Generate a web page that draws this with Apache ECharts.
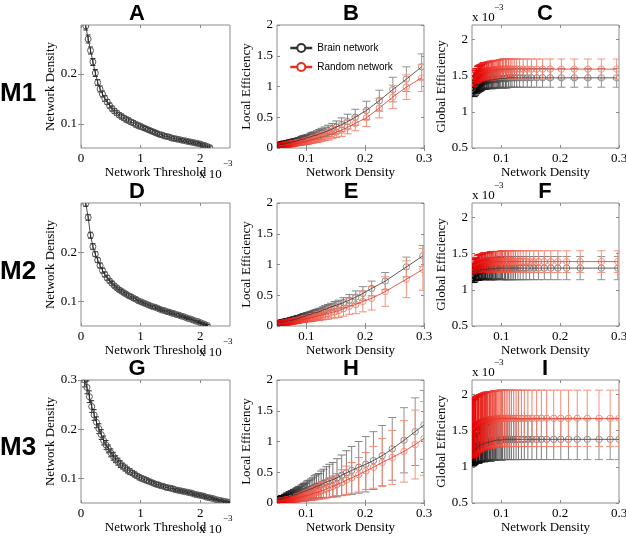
<!DOCTYPE html>
<html>
<head>
<meta charset="utf-8">
<script src="https://cdn.jsdelivr.net/npm/echarts@6/dist/echarts.min.js"></script>
<style>html,body{margin:0;padding:0;background:#fff}#main{width:626px;height:538px}</style>
</head>
<body>
<div id="main"></div>
<script>
// units: threshold in 1/100 of 1e-3, density in 1/1000,
// local efficiency in 1/100, global efficiency in 1/100 of 1e-3

// ---- M1 ----
const thrM1 = [8,12,16,20,24,28,32,36,40,44,48,52,56,60,64,68,72,76,80,84,88,92,96,100,104,108,112,116,120,124,128,132,136,140,144,148,152,156,160,164,168,172,176,180,184,188,192,196,200,204,208,212,216];
const densM1 = [296,270,247,224,202,183,170,160,151,144,137,131,126,122,118,115,112,109,107,104,102,99,97,95,93,91,89,87,85,83,81,79,78,76,75,74,72,71,70,69,68,67,66,65,64,63,62,61,60,58,57,55,53];
const densSdM1 = [8,8,7,7,7,6,6,6,6,5,5,5,5,5,5,5,5,5,5,5,5,5,5,5,4,4,4,4,4,4,4,4,4,4,4,4,4,4,4,3,3,3,3,3,3,3,3,3,3,3,3,3,3];
const leBrainM1 = [132,112,95,77,61,50,43,38,34,31,28,26,24,23,21,20,20,19,18,17,17,16,15,15,14,14,13,12,12,11,11,10,10,10,9,9,9,8,8,8,8,8,7,7,7,7,6,6,6,6,6,5,5];
const leBrainSdM1 = [21,20,20,17,15,13,12,11,10,9,9,8,8,7,7,6,6,6,6,5,5,5,5,5,5,4,4,4,4,4,4,4,4,4,3,3,3,3,3,3,3,3,3,3,3,3,2,2,2,2,2,2,2];
const leRandM1 = [114,99,83,65,49,40,34,29,26,23,21,19,18,17,15,15,14,13,13,12,11,11,10,10,10,9,9,9,8,8,8,7,7,7,7,7,6,6,6,6,6,6,5,5,5,5,5,5,4,4,4,4,4];
const leRandSdM1 = [22,20,19,16,14,12,11,10,9,8,8,7,7,7,6,6,6,5,5,5,5,5,4,4,4,4,4,4,4,3,3,3,3,3,3,3,3,3,3,3,3,3,2,2,2,2,2,2,2,2,2,2,2];
const geBrainM1 = [147,147,147,147,147,147,147,147,147,147,147,147,147,147,147,147,147,146,146,146,146,146,146,145,145,145,145,145,144,144,144,144,144,143,143,143,142,142,142,142,141,141,140,140,139,139,138,138,137,135,134,132,130];
const geBrainSdM1 = [13,13,13,13,13,13,13,13,13,13,13,13,13,13,13,13,13,13,13,13,13,12,12,12,12,12,12,12,12,12,12,11,11,11,11,11,11,11,11,10,10,10,10,10,10,10,10,10,10,9,9,9,9];
const geRandM1 = [159,159,159,159,159,159,159,159,159,159,159,159,159,159,159,159,159,159,159,159,159,159,159,158,158,158,158,158,157,157,157,157,157,157,156,156,156,156,156,156,155,155,154,154,154,153,153,152,152,150,149,147,145];
const geRandSdM1 = [14,14,14,14,14,14,14,14,14,14,14,14,14,14,14,14,14,14,14,14,14,13,13,13,13,13,13,13,13,13,13,12,12,12,12,12,12,12,12,11,11,11,11,11,11,11,11,11,11,10,10,10,10];

// ---- M2 ----
const thrM2 = [8,12,16,20,24,28,32,36,40,44,48,52,56,60,64,68,72,76,80,84,88,92,96,100,104,108,112,116,120,124,128,132,136,140,144,148,152,156,160,164,168,172,176,180,184,188,192,196,200,204,208,212];
const densM2 = [298,270,234,211,196,184,173,163,155,148,142,137,132,128,124,121,118,115,112,110,107,105,102,100,98,96,94,92,90,89,87,85,83,82,80,79,77,76,74,73,71,70,68,66,65,63,61,60,58,56,54,52];
const densSdM2 = [6,6,6,6,5,5,5,5,5,5,4,4,4,4,4,4,4,4,4,4,4,3,3,3,3,3,3,3,3,3,3,3,3,3,3,3,3,3,3,3,3,2,2,2,2,2,2,2,2,2,2,2];
const leBrainM2 = [114,96,73,61,53,47,42,38,35,33,31,29,27,26,24,23,22,21,21,20,19,18,18,17,16,16,15,15,14,14,13,12,12,12,11,11,10,10,9,9,9,8,8,7,7,7,6,6,6,5,5,4];
const leBrainSdM2 = [17,16,14,12,11,10,9,8,7,7,6,6,6,5,5,5,5,5,4,4,4,4,4,4,4,4,4,3,3,3,3,3,3,3,3,3,3,3,3,2,2,2,2,2,2,2,2,2,2,2,2,2];
const leRandM2 = [92,76,56,45,40,35,32,28,25,23,22,20,19,18,17,16,16,15,14,14,13,13,12,12,12,11,11,10,10,10,9,9,9,8,8,8,8,7,7,7,7,6,6,6,6,5,5,5,5,4,4,4];
const leRandSdM2 = [34,30,24,19,17,15,13,12,11,10,9,9,8,8,7,7,7,6,6,6,6,5,5,5,5,5,4,4,4,4,4,4,4,3,3,3,3,3,3,3,3,3,3,3,2,2,2,2,2,2,2,2];
const geBrainM2 = [130,130,130,130,130,130,130,130,130,130,130,130,130,130,130,130,130,130,130,130,130,130,130,130,130,130,130,130,129,129,129,129,129,129,129,129,129,129,128,128,128,128,128,127,127,126,125,125,124,123,121,120];
const geBrainSdM2 = [16,16,16,16,16,16,16,16,16,16,16,16,16,16,16,16,16,16,16,16,16,16,16,16,15,15,15,15,15,15,15,15,15,15,15,14,14,14,14,14,14,14,12,12,12,12,12,12,10,10,10,10];
const geRandM2 = [139,139,139,139,139,139,139,139,139,139,139,139,139,139,139,139,139,139,139,139,139,139,139,139,139,139,139,139,139,139,139,139,139,139,138,138,138,138,138,138,138,138,138,137,137,137,136,136,135,134,133,132];
const geRandSdM2 = [15,15,15,15,15,15,15,15,15,15,15,15,15,15,15,15,15,15,15,15,15,15,15,15,14,14,14,14,14,14,14,14,14,14,14,13,13,13,13,13,13,13,12,12,12,12,12,12,10,10,10,10];

// ---- M3 ----
const thrM3 = [6,10,14,18,22,26,30,34,38,42,46,50,54,58,62,66,70,74,78,82,86,90,94,98,102,106,110,114,118,122,126,130,134,138,142,146,150,154,158,162,166,170,174,178,182,186,190,194,198,202,206,210,214,218,222,226,230,234,238,242,246,250];
const densM3 = [300,285,266,246,229,214,201,189,177,168,160,152,145,139,134,129,125,121,117,114,111,108,105,102,100,98,96,94,92,90,88,87,85,84,82,81,80,79,77,76,75,74,73,72,71,70,68,67,66,65,64,62,61,60,59,57,56,55,54,53,52,51];
const densSdM3 = [14,13,12,12,11,11,10,10,9,9,8,8,8,7,7,7,6,6,6,6,5,5,5,5,5,5,5,4,4,4,4,4,4,4,4,4,4,4,3,3,3,3,3,3,3,3,3,3,3,3,3,3,3,3,2,2,2,2,2,2,2,2];
const leBrainM3 = [127,116,102,88,77,69,63,58,53,49,45,41,38,36,34,32,30,28,27,26,24,23,22,21,20,19,19,18,17,16,16,15,15,14,14,13,13,13,12,12,12,11,11,11,11,10,10,10,9,9,9,8,8,8,8,7,7,6,6,6,6,5];
const leBrainSdM3 = [56,55,53,51,49,47,45,42,39,36,33,31,28,27,25,23,22,20,19,18,17,16,15,15,14,13,13,12,12,11,11,11,10,10,9,9,9,9,8,8,8,7,7,7,7,6,6,6,5,5,5,4,4,4,4,3,3,3,3,3,2,2];
const leRandM3 = [105,95,84,74,66,58,52,46,41,37,33,30,27,25,23,21,20,18,17,16,15,14,13,13,12,11,11,10,10,9,9,9,8,8,7,7,7,7,7,6,6,6,6,6,6,5,5,5,5,5,5,4,4,4,4,4,3,3,3,3,3,3];
const leRandSdM3 = [60,56,50,44,39,34,30,28,25,23,21,18,17,16,15,14,13,12,11,11,10,10,9,8,8,8,7,7,7,6,6,6,6,6,5,5,5,5,5,4,4,4,4,4,4,3,3,3,3,3,3,2,2,2,2,2,2,1,1,1,1,1];
const geBrainM3 = [138,138,138,138,138,138,138,138,138,138,138,138,138,138,138,138,138,138,138,138,138,138,138,138,137,137,137,137,137,136,136,136,136,136,135,135,135,135,134,134,133,133,133,133,132,132,131,131,130,130,130,129,128,128,127,126,125,124,123,123,122,121];
const geBrainSdM3 = [28,28,28,28,28,28,28,28,28,28,28,28,28,28,28,28,28,28,28,28,28,28,28,28,28,27,27,27,27,27,27,27,27,27,27,27,27,25,25,25,25,25,25,25,25,25,23,23,23,23,23,23,23,23,20,20,20,20,20,20,20,20];
const geRandM3 = [167,167,167,167,167,167,167,167,167,167,167,167,167,167,167,167,167,167,167,167,167,167,167,167,167,167,167,166,166,166,166,166,165,165,165,165,165,165,164,164,164,164,164,163,163,163,162,162,161,161,161,160,159,159,158,157,156,155,154,154,153,152];
const geRandSdM3 = [39,39,39,39,39,39,39,39,39,39,39,39,39,39,39,39,39,39,39,39,39,39,39,39,39,39,39,39,39,39,39,39,39,39,39,39,39,39,39,39,39,39,39,39,39,39,39,39,39,39,39,39,39,39,40,40,40,40,40,40,40,40];

const panelLetters = ['A','B','C','D','E','F','G','H','I'];
const rowNames = ['M1','M2','M3'];
const legendNames = ['Brain network','Random network'];
const xTicksThr = [0, 1, 2];
const xTicksDens = [0.1, 0.2, 0.3];
const yTicksLocal = [0, 0.5, 1, 1.5, 2];
const yTicksGlobal = [0.5, 1, 1.5, 2];

const rows = [
  {thr: thrM1, dens: densM1, densSd: densSdM1, leB: leBrainM1, leBSd: leBrainSdM1, leR: leRandM1, leRSd: leRandSdM1, geB: geBrainM1, geBSd: geBrainSdM1, geR: geRandM1, geRSd: geRandSdM1, yMin: 0.052, yMax: 0.298, yTicks: [0.1, 0.2]},
  {thr: thrM2, dens: densM2, densSd: densSdM2, leB: leBrainM2, leBSd: leBrainSdM2, leR: leRandM2, leRSd: leRandSdM2, geB: geBrainM2, geBSd: geBrainSdM2, geR: geRandM2, geRSd: geRandSdM2, yMin: 0.051, yMax: 0.299, yTicks: [0.1, 0.2]},
  {thr: thrM3, dens: densM3, densSd: densSdM3, leB: leBrainM3, leBSd: leBrainSdM3, leR: leRandM3, leRSd: leRandSdM3, geB: geBrainM3, geBSd: geBrainSdM3, geR: geRandM3, geRSd: geRandSdM3, yMin: 0.05, yMax: 0.3, yTicks: [0.1, 0.2, 0.3]}
];

const SERIF = 'Liberation Serif', SANS = 'Liberation Sans';
const colL = [81, 277, 472], colW = [149, 147, 147], rowT = [25, 203, 380], rowH = 123;

function mix(a, b, t) {
  return 'rgb(' + [0, 1, 2].map(k => Math.round(a[k] + (b[k] - a[k]) * t)).join(',') + ')';
}
const brainCol = t => mix([150, 150, 150], [0, 0, 0], t);
const randCol = t => mix([246, 152, 130], [228, 0, 0], t);
const fmt = v => String(Math.round(v * 1000) / 1000);

function triples(xs, ys, es, kx, ky) {
  return xs.map((x, i) => [x * kx, ys[i] * ky, es[i] * ky]);
}

function errSeries(ax, data, barCol, markCol, cap, r) {
  const n = data.length;
  return {
    type: 'custom', xAxisIndex: ax, yAxisIndex: ax, data: data, clip: true, silent: true,
    encode: {x: 0, y: 1},
    renderItem: function (params, api) {
      const x = api.value(0), y = api.value(1), e = api.value(2);
      const p = api.coord([x, y]);
      const hi = api.coord([x, y + e])[1], lo = api.coord([x, y - e])[1];
      const t = params.dataIndex / (n - 1);
      const st = {stroke: barCol(t), lineWidth: 1, fill: 'none'};
      return {type: 'group', children: [
        {type: 'line', shape: {x1: p[0], y1: hi, x2: p[0], y2: lo}, style: st},
        {type: 'line', shape: {x1: p[0] - cap, y1: hi, x2: p[0] + cap, y2: hi}, style: st},
        {type: 'line', shape: {x1: p[0] - cap, y1: lo, x2: p[0] + cap, y2: lo}, style: st},
        {type: 'circle', shape: {cx: p[0], cy: p[1], r: r}, style: {stroke: markCol(t), lineWidth: 1, fill: 'none'}}
      ]};
    }
  };
}

function lineSeries(ax, data, color, name) {
  return {
    type: 'line', name: name, xAxisIndex: ax, yAxisIndex: ax,
    data: data.map(d => [d[0], d[1]]),
    showSymbol: false, symbol: 'emptyCircle', symbolSize: 8, silent: true,
    lineStyle: {width: 0.8, color: color}, itemStyle: {color: color}
  };
}

function axis(g, min, max, ticks, name, pos, main, isX) {
  return {
    type: 'value', gridIndex: g, position: pos, min: min, max: max,
    name: main ? name : '', nameLocation: 'middle', nameGap: isX ? 17 : 23,
    nameTextStyle: {fontFamily: SERIF, fontSize: 13, color: '#000'},
    axisLine: {show: false},
    axisTick: {show: true, inside: true, length: 3, customValues: ticks, lineStyle: {color: '#8a8a8a'}},
    axisLabel: {show: main, customValues: ticks, fontFamily: SERIF, fontSize: 13, color: '#000', margin: isX ? 4 : 4, formatter: fmt},
    splitLine: {show: false}
  };
}

const grids = [], xAxes = [], yAxes = [], series = [], graphic = [];

rows.forEach((row, r) => {
  for (let c = 0; c < 3; c++) {
    const g = r * 3 + c, ax = 2 * g;
    grids.push({left: colL[c], top: rowT[r], width: colW[c], height: rowH, show: true,
      borderColor: '#8c8c8c', borderWidth: 1, backgroundColor: 'transparent', outerBoundsMode: 'none'});
    let xs, ys;
    if (c === 0) {
      xs = [0, 2.5, xTicksThr, 'Network Threshold'];
      ys = [row.yMin, row.yMax, row.yTicks, 'Network Density'];
    } else if (c === 1) {
      xs = [0.05, 0.3, xTicksDens, 'Network Density'];
      ys = [0, 2, yTicksLocal, 'Local Efficiency'];
    } else {
      xs = [0.05, 0.3, xTicksDens, 'Network Density'];
      ys = [0.5, 2.2, yTicksGlobal, 'Global Efficiency'];
    }
    xAxes.push(axis(g, xs[0], xs[1], xs[2], xs[3], 'bottom', true, true));
    xAxes.push(axis(g, xs[0], xs[1], xs[2], '', 'top', false, true));
    yAxes.push(axis(g, ys[0], ys[1], ys[2], ys[3], 'left', true, false));
    yAxes.push(axis(g, ys[0], ys[1], ys[2], '', 'right', false, false));

    if (c === 0) {
      const d = triples(row.thr, row.dens, row.densSd, 0.01, 0.001);
      series.push(errSeries(ax, d, () => '#2a2a2a', () => '#5a5a5a', 2.5, 3));
      series.push(lineSeries(ax, d, '#222', 'threshold'));
    } else {
      const k = 0.01;
      const bD = c === 1 ? triples(row.dens, row.leB, row.leBSd, 0.001, k) : triples(row.dens, row.geB, row.geBSd, 0.001, k);
      const rD = c === 1 ? triples(row.dens, row.leR, row.leRSd, 0.001, k) : triples(row.dens, row.geR, row.geRSd, 0.001, k);
      series.push(errSeries(ax, bD, brainCol, brainCol, 4, 3.2));
      series.push(lineSeries(ax, bD, '#333', legendNames[0]));
      series.push(errSeries(ax, rD, randCol, randCol, 4, 3.2));
      series.push(lineSeries(ax, rD, '#e5301f', legendNames[1]));
    }
  }
});

// panel letters, row names, exponent labels
const letterX = [137, 351, 545];
const letterY = [14, 192, 369];
const rowNameY = [94, 272, 448];
const txt = (x, y, s, size, font, weight, align) => ({
  type: 'text', x: x, y: y, silent: true,
  style: {text: s, fontFamily: font, fontSize: size, fontWeight: weight, fill: '#000', align: align, verticalAlign: 'middle'}
});
for (let r = 0; r < 3; r++) {
  for (let c = 0; c < 3; c++) graphic.push(txt(letterX[c], letterY[r], panelLetters[r * 3 + c], 22, SANS, 'bold', 'center'));
  graphic.push(txt(0, rowNameY[r], rowNames[r], 26, SANS, 'bold', 'left'));
  const bottom = rowT[r] + rowH;
  graphic.push(txt(199, bottom + 27, 'x 10', 13, SERIF, 'normal', 'left'));
  graphic.push(txt(223, bottom + 16, '\u22123', 9, SERIF, 'normal', 'left'));
  graphic.push(txt(472, rowT[r] - 7.5, 'x 10', 13, SERIF, 'normal', 'left'));
  graphic.push(txt(494, rowT[r] - 17, '\u22123', 9, SERIF, 'normal', 'left'));
}

const chart = echarts.init(document.getElementById('main'), null, {renderer: 'canvas'});
chart.setOption({
  animation: false,
  backgroundColor: '#fff',
  textStyle: {fontFamily: SERIF},
  grid: grids, xAxis: xAxes, yAxis: yAxes, series: series, graphic: graphic,
  legend: {
    data: legendNames, orient: 'vertical', left: 284, top: 38,
    itemWidth: 22, itemHeight: 10, itemGap: 9, selectedMode: false,
    textStyle: {fontFamily: SANS, fontSize: 10, color: '#000'},
    lineStyle: {width: 2.5}, itemStyle: {borderWidth: 2}
  }
});
</script>
</body>
</html>
